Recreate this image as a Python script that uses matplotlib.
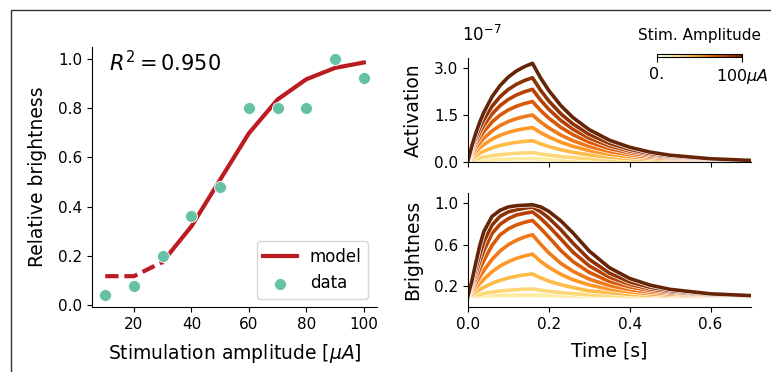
import numpy as np
import matplotlib.pyplot as plt
import matplotlib as mpl
from matplotlib import patheffects as pe
from matplotlib.patches import Rectangle

# Dose-response (left)
amplitudes = [10, 20, 30, 40, 50, 60, 70, 80, 90, 100]
data_brightness = [0.04, 0.08, 0.20, 0.36, 0.48, 0.80, 0.80, 0.80, 1.00, 0.92]
model_brightness = [0.118, 0.118, 0.176, 0.32, 0.509, 0.697, 0.834, 0.916, 0.962, 0.984]
r_squared = 0.950

# Time courses (right)
time_s = [0, 0.01, 0.02, 0.03, 0.04, 0.06, 0.08, 0.10, 0.12, 0.14, 0.16,
          0.18, 0.20, 0.23, 0.26, 0.30, 0.35, 0.40, 0.45, 0.50, 0.60, 0.70]
act_shape = [0, 0.156, 0.290, 0.404, 0.502, 0.659, 0.774, 0.859, 0.921, 0.966, 1.0,
             0.852, 0.726, 0.571, 0.449, 0.326, 0.219, 0.147, 0.098, 0.066, 0.030, 0.013]
act_peak = [0.03, 0.10, 0.29, 0.67, 1.09, 1.49, 1.92, 2.31, 2.68, 3.14]  # x 1e-7

b10 = [0.100, 0.101, 0.102, 0.102, 0.103, 0.104, 0.104, 0.105, 0.105, 0.105, 0.105,
       0.105, 0.104, 0.103, 0.103, 0.102, 0.101, 0.101, 0.101, 0.101, 0.100, 0.100]
b20 = [0.100, 0.103, 0.105, 0.107, 0.109, 0.112, 0.114, 0.115, 0.117, 0.117, 0.118,
       0.116, 0.114, 0.111, 0.109, 0.107, 0.105, 0.103, 0.102, 0.102, 0.101, 0.100]
b30 = [0.100, 0.108, 0.115, 0.123, 0.132, 0.146, 0.156, 0.163, 0.169, 0.173, 0.176,
       0.164, 0.154, 0.141, 0.131, 0.120, 0.114, 0.109, 0.107, 0.105, 0.102, 0.101]
b40 = [0.100, 0.120, 0.147, 0.170, 0.192, 0.230, 0.258, 0.281, 0.298, 0.311, 0.320,
       0.283, 0.251, 0.217, 0.189, 0.157, 0.140, 0.124, 0.115, 0.111, 0.105, 0.103]
b50 = [0.100, 0.139, 0.185, 0.229, 0.269, 0.341, 0.396, 0.437, 0.469, 0.492, 0.510,
       0.441, 0.385, 0.317, 0.264, 0.215, 0.173, 0.147, 0.129, 0.117, 0.108, 0.104]
b60 = [0.100, 0.158, 0.226, 0.292, 0.354, 0.459, 0.540, 0.600, 0.643, 0.674, 0.697,
       0.606, 0.524, 0.422, 0.346, 0.270, 0.209, 0.169, 0.145, 0.127, 0.112, 0.106]
b70 = [0.100, 0.180, 0.273, 0.366, 0.450, 0.593, 0.695, 0.752, 0.790, 0.815, 0.834,
       0.758, 0.675, 0.546, 0.439, 0.336, 0.248, 0.196, 0.161, 0.139, 0.115, 0.107]
b80 = [0.100, 0.201, 0.320, 0.440, 0.543, 0.708, 0.796, 0.850, 0.885, 0.902, 0.916,
       0.855, 0.780, 0.657, 0.530, 0.398, 0.289, 0.220, 0.176, 0.149, 0.118, 0.109]
b90 = [0.100, 0.221, 0.367, 0.507, 0.631, 0.789, 0.873, 0.915, 0.936, 0.951, 0.962,
       0.918, 0.858, 0.745, 0.616, 0.461, 0.328, 0.244, 0.193, 0.160, 0.123, 0.110]
b100 = [0.100, 0.246, 0.425, 0.595, 0.727, 0.872, 0.931, 0.963, 0.975, 0.980, 0.984,
        0.964, 0.922, 0.830, 0.714, 0.541, 0.380, 0.277, 0.213, 0.172, 0.129, 0.112]
brightness_curves = [b10, b20, b30, b40, b50, b60, b70, b80, b90, b100]

red = "#bd1b22"
teal = "#66c2a5"
cmap = plt.get_cmap("YlOrBr")
norm = mpl.colors.Normalize(0, 100)

fig = plt.figure(figsize=(7.71, 3.72), dpi=100)

# Left panel
ax = fig.add_axes([0.1197, 0.174, 0.3689, 0.7005])
ax.plot(amplitudes[:3], model_brightness[:3], color=red, lw=3, ls=(0, (3.2, 1.4)))
ax.plot(amplitudes[2:], model_brightness[2:], color=red, lw=3, label="model")
ax.scatter(amplitudes, data_brightness, s=75, color=teal, edgecolor="white",
           linewidth=0.6, zorder=3, label="data")
ax.text(0.06, 0.94, "$R^2 = %.3f$" % r_squared, transform=ax.transAxes,
        fontsize=15, va="center", ha="left")
ax.set_xlabel(r"Stimulation amplitude [$\mu A$]", fontsize=13.5, labelpad=7)
ax.set_ylabel("Relative brightness", fontsize=13.5, labelpad=8)
ax.set_xticks([20, 40, 60, 80, 100])
ax.set_yticks([0.0, 0.2, 0.4, 0.6, 0.8, 1.0])
ax.tick_params(labelsize=11)
ax.legend(loc="lower right", fontsize=12)
ax.spines[["top", "right"]].set_visible(False)

# Right panels
ax1 = fig.add_axes([0.6066, 0.5653, 0.3675, 0.278])
ax2 = fig.add_axes([0.6066, 0.174, 0.3675, 0.308])
stroke = [pe.Stroke(linewidth=3.6, foreground="white"), pe.Normal()]
for amp, peak, bright in zip(amplitudes, act_peak, brightness_curves):
    c = cmap(norm(amp))
    ax1.plot(time_s, np.array(act_shape) * peak, color=c, lw=2.6, path_effects=stroke)
    ax2.plot(time_s, bright, color=c, lw=2.6, path_effects=stroke)

ax1.set_xlim(0, 0.7)
ax1.set_ylim(0, 3.3)
ax1.set_yticks([0.0, 1.5, 3.0])
ax1.set_xticks([0.0, 0.2, 0.4, 0.6])
ax1.tick_params(labelbottom=False, labelsize=11)
ax1.set_ylabel("Activation", fontsize=13.5, labelpad=8)
ax1.spines[["top", "right"]].set_visible(False)
fig.text(462 / 771, 1 - 35 / 372, "$10^{-7}$", fontsize=12, va="center", ha="left")

ax2.set_xlim(0, 0.7)
ax2.set_ylim(0, 1.1)
ax2.set_yticks([0.2, 0.6, 1.0])
ax2.set_xticks([0.0, 0.2, 0.4, 0.6])
ax2.tick_params(labelsize=11)
ax2.set_xlabel("Time [s]", fontsize=13.5, labelpad=7)
ax2.set_ylabel("Brightness", fontsize=13.5, labelpad=8)
ax2.spines[["top", "right"]].set_visible(False)
fig.align_ylabels([ax1, ax2])

# Colorbar legend
cax = fig.add_axes([0.8517, 0.846, 0.111, 0.009])
sm = mpl.cm.ScalarMappable(norm=norm, cmap=cmap)
cb = fig.colorbar(sm, cax=cax, orientation="horizontal", ticks=[0, 100])
cb.ax.set_xticklabels(["0.", r"100$\mu A$"])
cb.ax.tick_params(labelsize=11.5)
cax.set_title("Stim. Amplitude", fontsize=11, pad=10)

# Figure frame
fig.add_artist(Rectangle((11 / 771, -0.2), 1.5, 1.2 - 10 / 372, transform=fig.transFigure,
                         fill=False, edgecolor="#333333", lw=1))

fig.savefig("out.png", dpi=100)
